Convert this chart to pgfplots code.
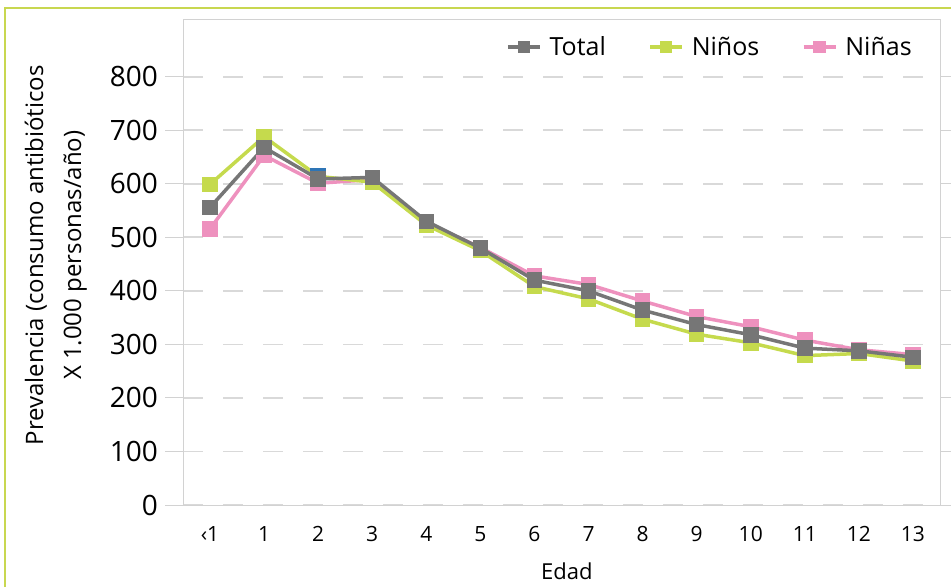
\documentclass[border=0pt]{standalone}
\usepackage{pgfplots}
\pgfplotsset{compat=1.18}
\usepackage{fontspec}
\setmainfont{Open Sans}
\definecolor{cTotal}{RGB}{118,118,118}
\definecolor{cNinos}{RGB}{197,218,77}
\definecolor{cNinas}{RGB}{238,145,190}
\definecolor{cFrame}{RGB}{200,215,80}
\definecolor{cGrid}{RGB}{217,217,217}
\definecolor{cAxis}{RGB}{210,210,210}
\definecolor{cBlue}{RGB}{46,117,182}
\begin{document}
\begin{tikzpicture}[x=1pt,y=1pt]
\useasboundingbox (0,0) rectangle (951,587);
\draw[cFrame, line width=1.5pt] (5,0) -- (5,579) -- (951,579);
\begin{axis}[
  at={(183pt,82pt)}, anchor=south west,
  scale only axis, width=757pt, height=485pt,
  xmin=-0.5, xmax=13.5, ymin=0, ymax=906,
  xtick={0,...,13},
  xticklabels={‹1,1,2,3,4,5,6,7,8,9,10,11,12,13},
  ytick={0,100,...,800},
  /pgf/number format/assume math mode=true,
  axis line style={draw=cAxis, line width=1pt},
  xtick style={draw=none},
  ytick style={draw=cAxis, line width=1pt},
  tick align=outside, major tick length=18pt,
  ymajorgrids, grid style={cGrid, line width=1.8pt, dash pattern=on 20pt off 20pt},
  yticklabel style={font=\fontsize{28}{32}\selectfont, inner xsep=0pt, xshift=-7pt},
  xticklabel style={font=\fontsize{21}{24}\selectfont, yshift=0pt},
  xlabel={Edad},
  xlabel style={font=\fontsize{22}{26}\selectfont, at={(axis description cs:0.507,-0.136)}, anchor=center},
  ylabel={Prevalencia (consumo antibióticos\\X 1.000 personas/año)},
  ylabel style={font=\fontsize{24}{38}\selectfont, align=center, at={(axis description cs:-0.168,0.515)}, anchor=center},
  legend columns=3, reverse legend,
  legend style={draw=none, fill=none, at={(0.700,0.944)}, anchor=center,
    font=\fontsize{25}{28}\selectfont,
    nodes={inner xsep=8pt},
    /tikz/every even column/.append style={column sep=34.5pt}},
  legend image code/.code={
    \draw[#1, line width=3.5pt, mark size=4.5pt, mark repeat=2, mark phase=2] plot coordinates {(0pt,0pt) (16pt,0pt) (32pt,0pt)};},
  every axis plot/.append style={line width=3.5pt, mark=square*, mark size=6pt, mark options={solid}},
]
\addplot[cNinas, mark options={fill=cNinas}] coordinates {
(0,516) (1,653) (2,601) (3,608) (4,527) (5,481) (6,428) (7,412) (8,381) (9,352) (10,333) (11,308) (12,290) (13,281)};
\addlegendentry{Niñas}
\addplot[cNinos, mark options={fill=cNinos}] coordinates {
(0,599) (1,688) (2,614) (3,603) (4,523) (5,475) (6,408) (7,385) (8,347) (9,319) (10,303) (11,279) (12,283) (13,269)};
\addlegendentry{Niños}
\addplot[forget plot, only marks, cBlue, mark options={fill=cBlue}] coordinates {(2,615)};
\addplot[cTotal, mark options={fill=cTotal}] coordinates {
(0,556) (1,668) (2,609) (3,612) (4,530) (5,480) (6,420) (7,400) (8,364) (9,337) (10,318) (11,293) (12,288) (13,276)};
\addlegendentry{Total}
\end{axis}
\end{tikzpicture}
\end{document}
